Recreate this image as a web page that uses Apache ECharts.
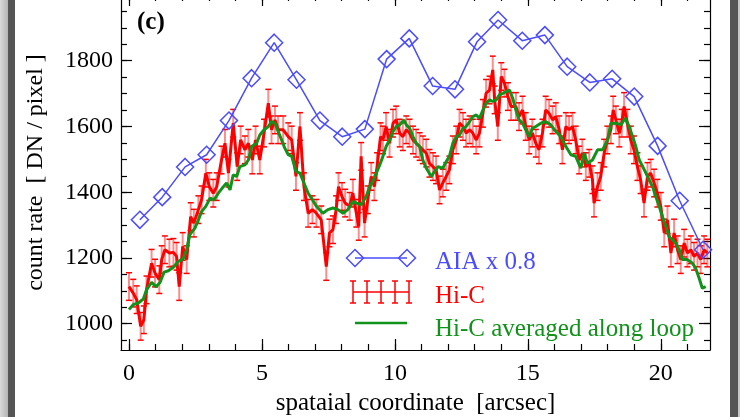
<!DOCTYPE html>
<html>
<head>
<meta charset="utf-8">
<script src="https://cdn.jsdelivr.net/npm/echarts@6/dist/echarts.min.js"></script>
<style>
  html, body { margin: 0; padding: 0; background: #fff; }
  #main { width: 740px; height: 417px; }
</style>
</head>
<body>
<div id="main"></div>
<script>
// AIA x 0.8 (diamonds)
const aiaX = [0.41, 1.25, 2.11, 2.92, 3.76, 4.61, 5.46, 6.30, 7.18, 8.02, 8.87, 9.69, 10.54,
  11.42, 12.26, 13.09, 13.88, 14.79, 15.64, 16.48, 17.33, 18.17, 19.00, 19.88, 20.71, 21.59];
const aiaY = [1316, 1385, 1477, 1514, 1618, 1747, 1855, 1742, 1618, 1569, 1592, 1805, 1868,
  1723, 1713, 1858, 1924, 1861, 1878, 1782, 1734, 1745, 1691, 1541, 1374, 1225];

// Hi-C (with error bars)
const hicX = [0.00, 0.16, 0.29, 0.44, 0.56, 0.66, 0.85, 0.98, 1.14, 1.23, 1.35, 1.52, 1.67, 1.79,
  1.89, 2.02, 2.17, 2.32, 2.44, 2.61, 2.73, 2.89, 3.02, 3.17, 3.30, 3.48, 3.61, 3.74, 3.92, 4.07,
  4.20, 4.36, 4.49, 4.64, 4.76, 4.92, 5.08, 5.24, 5.36, 5.49, 5.61, 5.80, 5.99, 6.12, 6.28, 6.43,
  6.58, 6.74, 6.90, 7.05, 7.23, 7.42, 7.54, 7.67, 7.79, 7.88, 8.01, 8.13, 8.30, 8.42, 8.55, 8.64,
  8.73, 8.86, 8.98, 9.11, 9.23, 9.33, 9.46, 9.55, 9.67, 9.80, 9.93, 10.05, 10.18, 10.30, 10.43,
  10.55, 10.68, 10.80, 10.93, 11.05, 11.18, 11.30, 11.43, 11.55, 11.68, 11.80, 11.93, 12.05,
  12.18, 12.31, 12.43, 12.56, 12.68, 12.81, 12.93, 13.06, 13.18, 13.31, 13.43, 13.56, 13.68,
  13.75, 13.87, 14.00, 14.12, 14.25, 14.37, 14.55, 14.67, 14.80, 14.92, 15.05, 15.17, 15.30,
  15.42, 15.55, 15.67, 15.80, 15.93, 16.05, 16.18, 16.30, 16.43, 16.55, 16.68, 16.80, 16.93,
  17.05, 17.18, 17.31, 17.43, 17.49, 17.62, 17.74, 17.87, 17.99, 18.12, 18.21, 18.31, 18.44,
  18.53, 18.62, 18.74, 18.87, 18.99, 19.12, 19.24, 19.37, 19.50, 19.62, 19.75, 19.87, 20.00,
  20.13, 20.25, 20.38, 20.50, 20.63, 20.75, 20.88, 21.00, 21.13, 21.25, 21.38, 21.50, 21.63, 21.75];
const hicY = [1113, 1093, 1073, 992, 1012, 1103, 1184, 1154, 1134, 1195, 1225, 1215, 1217, 1205,
  1113, 1235, 1195, 1326, 1306, 1347, 1377, 1458, 1417, 1397, 1417, 1498, 1549, 1458, 1610, 1478,
  1559, 1529, 1549, 1498, 1559, 1498, 1580, 1671, 1590, 1620, 1590, 1590, 1569, 1559, 1448, 1600,
  1417, 1336, 1347, 1336, 1316, 1174, 1276, 1286, 1347, 1417, 1387, 1367, 1357, 1397, 1336, 1296,
  1509, 1306, 1377, 1448, 1417, 1478, 1569, 1559, 1600, 1549, 1610, 1620, 1580, 1569, 1590,
  1580, 1559, 1549, 1539, 1529, 1519, 1488, 1478, 1468, 1407, 1428, 1448, 1468,
  1529, 1559, 1610, 1600, 1580, 1590, 1580, 1559, 1580, 1640, 1701, 1711, 1772,
  1681, 1600, 1752, 1732, 1691, 1661, 1661, 1630, 1650, 1600, 1559, 1580, 1549,
  1529, 1580, 1650, 1640, 1620, 1630, 1590, 1529, 1600, 1590, 1600, 1559, 1498,
  1519, 1478, 1488, 1438, 1367, 1417, 1448, 1519, 1559, 1590, 1650, 1620, 1580,
  1610, 1661, 1610, 1559, 1529, 1478, 1438, 1367, 1448, 1458, 1428, 1397, 1357,
  1276, 1316, 1215, 1276, 1225, 1195, 1245, 1215, 1225, 1205, 1215, 1195, 1225, 1215];
const hicErr = 42;

// Hi-C averaged along loop
const avgX = [0.00, 0.16, 0.35, 0.54, 0.66, 0.85, 1.02, 1.17, 1.32, 1.48, 1.67, 1.85, 2.04, 2.17,
  2.29, 2.48, 2.61, 2.73, 2.89, 3.05, 3.20, 3.36, 3.55, 3.67, 3.80, 3.92, 4.05, 4.17, 4.36, 4.49,
  4.61, 4.80, 4.92, 5.08, 5.24, 5.36, 5.49, 5.61, 5.74, 5.86, 5.99, 6.12, 6.28, 6.43, 6.58, 6.74,
  6.90, 7.05, 7.29, 7.48, 7.67, 7.86, 8.05, 8.23, 8.42, 8.55, 8.73, 8.92, 9.05, 9.17, 9.30, 9.43,
  9.55, 9.67, 9.80, 9.93, 10.05, 10.18, 10.34, 10.43, 10.55, 10.68, 10.80, 10.93, 11.05, 11.18,
  11.37, 11.49, 11.62, 11.80, 11.93, 12.05, 12.18, 12.31, 12.43, 12.56, 12.68, 12.81, 12.93,
  13.06, 13.18, 13.31, 13.43, 13.56, 13.68, 13.81, 13.93, 14.06, 14.18, 14.31, 14.43, 14.55,
  14.67, 14.80, 14.92, 15.05, 15.17, 15.30, 15.49, 15.67, 15.86, 16.05, 16.24, 16.43, 16.62,
  16.80, 16.99, 17.12, 17.24, 17.43, 17.62, 17.81, 18.00, 18.12, 18.31, 18.50, 18.66, 18.81,
  18.94, 19.06, 19.19, 19.32, 19.44, 19.56, 19.69, 19.81, 19.94, 20.06, 20.19, 20.31, 20.44,
  20.56, 20.69, 20.81, 21.00, 21.19, 21.31, 21.44, 21.56, 21.69];
const avgY = [1043, 1058, 1063, 1075, 1103, 1126, 1112, 1126, 1157, 1161, 1172, 1189, 1198, 1225,
  1271, 1291, 1316, 1341, 1357, 1382, 1377, 1397, 1417, 1428, 1407, 1453, 1448, 1478, 1483, 1498,
  1539, 1549, 1574, 1590, 1600, 1615, 1610, 1585, 1559, 1534, 1514, 1509, 1463, 1458, 1428, 1397,
  1377, 1357, 1336, 1347, 1352, 1347, 1336, 1347, 1372, 1367, 1362, 1387, 1417, 1433, 1458, 1483,
  1509, 1539, 1559, 1585, 1600, 1605, 1620, 1605, 1595, 1569, 1549, 1539, 1498, 1473,
  1448, 1463, 1478, 1473, 1493, 1509, 1549, 1569, 1574, 1595, 1600, 1615, 1630,
  1635, 1625, 1650, 1671, 1681, 1676, 1681, 1696, 1701, 1706, 1711, 1686, 1650,
  1620, 1610, 1590, 1569, 1595, 1600, 1610, 1615, 1605, 1585, 1569, 1539, 1514,
  1509, 1473, 1519, 1488, 1498, 1529, 1529, 1559, 1610, 1610, 1605, 1625, 1600,
  1569, 1539, 1498, 1478, 1458, 1438, 1417, 1387, 1357, 1326, 1296, 1265, 1255,
  1245, 1225, 1195, 1195, 1184, 1169, 1139, 1108, 1113];

const xMajor = [0, 5, 10, 15, 20];
const xMinor = [0, 1, 2, 3, 4, 5, 6, 7, 8, 9, 10, 11, 12, 13, 14, 15, 16, 17, 18, 19, 20, 21];
const yMajor = [1000, 1200, 1400, 1600, 1800];
const yMinor = [950, 1000, 1050, 1100, 1150, 1200, 1250, 1300, 1350, 1400, 1450, 1500, 1550,
  1600, 1650, 1700, 1750, 1800, 1850, 1900, 1950];

const BLUE = "#4b4bff";
const RED = "#ff0000";
const GREEN = "#11921b";
const FONT = "Liberation Serif";

const chart = echarts.init(document.getElementById("main"), null, { renderer: "canvas" });

function axisPair(kind, position, major, minor, withLabels) {
  const base = {
    type: "value",
    position: position,
    min: kind === "x" ? -0.3 : 920,
    max: kind === "x" ? 21.85 : 2000,
    splitLine: { show: false }
  };
  const majorAxis = Object.assign({}, base, {
    axisLine: { show: true, onZero: false, lineStyle: { color: "#000", width: 1.2 } },
    axisTick: { show: true, inside: true, length: 11, customValues: major, lineStyle: { color: "#000", width: 1.2 } },
    axisLabel: {
      show: withLabels,
      customValues: major,
      formatter: v => String(v),
      color: "#000",
      fontFamily: FONT,
      fontSize: 24,
      margin: kind === "x" ? 12 : 8
    }
  });
  const minorAxis = Object.assign({}, base, {
    axisLine: { show: false, onZero: false },
    axisTick: { show: true, inside: true, length: 6, customValues: minor, lineStyle: { color: "#000", width: 1.2 } },
    axisLabel: { show: false }
  });
  return [majorAxis, minorAxis];
}

const xAxes = axisPair("x", "bottom", xMajor, xMinor, true).concat(axisPair("x", "top", xMajor, xMinor, false));
Object.assign(xAxes[0], {
  name: "spataial coordinate  [arcsec]",
  nameLocation: "middle",
  nameGap: 40,
  nameTextStyle: { color: "#000", fontFamily: FONT, fontSize: 25 }
});
const yAxes = axisPair("y", "left", yMajor, yMinor, true).concat(axisPair("y", "right", yMajor, yMinor, false));
Object.assign(yAxes[0], {
  name: "count rate  [ DN / pixel ]",
  nameLocation: "middle",
  nameGap: 73,
  nameTextStyle: { color: "#000", fontFamily: FONT, fontSize: 24 }
});

const hicData = hicX.map((x, i) => [x, hicY[i], hicErr]);
const avgData = avgX.map((x, i) => [x, avgY[i]]);
const aiaData = aiaX.map((x, i) => [x, aiaY[i]]);

function renderErr(params, api) {
  const x = api.value(0);
  const y = api.value(1);
  const e = api.value(2);
  const top = api.coord([x, y + e]);
  const bot = api.coord([x, y - e]);
  const w = 3;
  return {
    type: "group",
    children: [
      { type: "line", shape: { x1: top[0], y1: top[1], x2: bot[0], y2: bot[1] }, style: { stroke: "rgba(255,0,0,0.45)", lineWidth: 2 } },
      { type: "line", shape: { x1: top[0] - w, y1: top[1], x2: top[0] + w, y2: top[1] }, style: { stroke: RED, lineWidth: 1.5 } },
      { type: "line", shape: { x1: bot[0] - w, y1: bot[1], x2: bot[0] + w, y2: bot[1] }, style: { stroke: RED, lineWidth: 1.5 } }
    ]
  };
}

// legend drawn by hand (its symbols are not standard ones)
function diamond(cx, cy, r) {
  return {
    type: "polygon",
    shape: { points: [[cx - r, cy], [cx, cy - r], [cx + r, cy], [cx, cy + r]] },
    style: { fill: "none", stroke: BLUE, lineWidth: 1.5 }
  };
}
const legendText = (txt, y, color) => ({
  type: "text", left: 435, top: y,
  style: { text: txt, fill: color, font: "25px '" + FONT + "'" }
});
const ebarY = 292;
const ebars = [353, 367, 381, 395, 409].map(x => ({
  type: "group",
  children: [
    { type: "line", shape: { x1: x, y1: ebarY - 11, x2: x, y2: ebarY + 11 }, style: { stroke: RED, lineWidth: 1.5 } },
    { type: "line", shape: { x1: x - 3, y1: ebarY - 11, x2: x + 3, y2: ebarY - 11 }, style: { stroke: RED, lineWidth: 1.5 } },
    { type: "line", shape: { x1: x - 3, y1: ebarY + 11, x2: x + 3, y2: ebarY + 11 }, style: { stroke: RED, lineWidth: 1.5 } }
  ]
}));

const option = {
  backgroundColor: "#fff",
  animation: false,
  grid: { left: 121, right: 30, top: -5, bottom: 67, containLabel: false, outerBoundsMode: "none" },
  xAxis: xAxes,
  yAxis: yAxes,
  series: [
    {
      name: "Hi-C err",
      type: "custom",
      renderItem: renderErr,
      data: hicData,
      z: 1,
      silent: true
    },
    {
      name: "Hi-C",
      type: "line",
      data: hicData.map(d => [d[0], d[1]]),
      showSymbol: false,
      lineStyle: { color: RED, width: 3 },
      z: 2
    },
    {
      name: "Hi-C averaged along loop",
      type: "line",
      data: avgData,
      showSymbol: false,
      lineStyle: { color: GREEN, width: 3 },
      z: 3
    },
    {
      name: "AIA x 0.8",
      type: "line",
      data: aiaData,
      symbol: "diamond",
      symbolSize: 17,
      showSymbol: true,
      itemStyle: { color: "rgba(0,0,0,0)", borderColor: BLUE, borderWidth: 1.5 },
      lineStyle: { color: BLUE, width: 1.5 },
      z: 4
    }
  ],
  graphic: [
    // window frame strips at the edges
    { type: "rect", shape: { x: 0, y: 0, width: 8, height: 417 }, style: { fill: new echarts.graphic.LinearGradient(0, 0, 1, 0, [{ offset: 0, color: "#d8d8d8" }, { offset: 1, color: "#b4b4b4" }]) } },
    { type: "rect", shape: { x: 8, y: 0, width: 7, height: 417 }, style: { fill: "#555" } },
    { type: "rect", shape: { x: 730, y: 0, width: 8, height: 417 }, style: { fill: "#555" } },
    { type: "rect", shape: { x: 738, y: 0, width: 2, height: 417 }, style: { fill: "#c8c8c8" } },
    { type: "text", left: 137, top: 10, style: { text: "(c)", fill: "#000", font: "bold 25px '" + FONT + "'" } },
    { type: "line", shape: { x1: 355, y1: 258, x2: 407, y2: 258 }, style: { stroke: BLUE, lineWidth: 1.5 } },
    diamond(355, 258, 8.5),
    diamond(407, 258, 8.5),
    legendText("AIA x 0.8", 250, BLUE),
    { type: "line", shape: { x1: 353, y1: ebarY, x2: 409, y2: ebarY }, style: { stroke: RED, lineWidth: 1.5 } },
    ...ebars,
    legendText("Hi-C", 284, RED),
    { type: "line", shape: { x1: 355, y1: 323, x2: 407, y2: 323 }, style: { stroke: GREEN, lineWidth: 2.5 } },
    legendText("Hi-C averaged along loop", 317, GREEN)
  ]
};

chart.setOption(option);
</script>
</body>
</html>
